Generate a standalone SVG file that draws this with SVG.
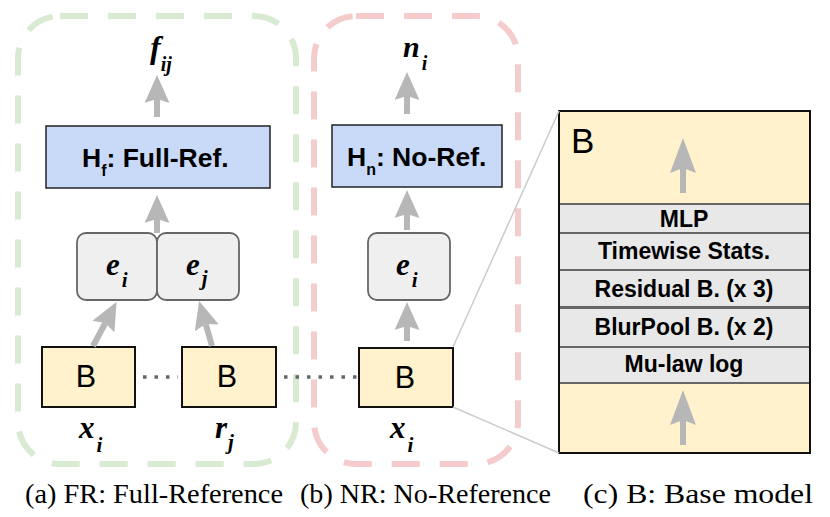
<svg xmlns="http://www.w3.org/2000/svg" width="830" height="517" viewBox="0 0 830 517">
<defs>
<marker id="ah" viewBox="0 0 28 25" refX="4" refY="12.5" markerWidth="28" markerHeight="25" orient="auto" markerUnits="userSpaceOnUse">
<path d="M0,0 L28,12.5 L0,25 L4,12.5 Z" fill="#b7b7b7"/>
</marker>
<marker id="ah2" viewBox="0 0 35 26" refX="5" refY="13" markerWidth="35" markerHeight="26" orient="auto" markerUnits="userSpaceOnUse">
<path d="M0,0 L35,13 L0,26 L5,13 Z" fill="#b7b7b7"/>
</marker>
<style>
.grp{fill:none;stroke-width:6;stroke-dasharray:28 20}
.head{fill:#c9daf8;stroke:#222;stroke-width:1.5}
.emb{fill:#efefef;stroke:#666;stroke-width:1.8}
.base{fill:#fff2cc;stroke:#111;stroke-width:2}
.layer{fill:#e8e8e8;stroke:#666;stroke-width:2}
.arr{stroke:#b7b7b7;stroke-width:6;fill:none;marker-end:url(#ah)}
.arr2{stroke:#b7b7b7;stroke-width:6;fill:none;marker-end:url(#ah2)}
.dot{stroke:#666;stroke-width:3.5;stroke-dasharray:3.5 8}
.zl{stroke:#ccc;stroke-width:1.5}
.sans{font-family:"Liberation Sans",Arial,sans-serif}
.lay{font-family:"Liberation Sans",Arial,sans-serif;font-size:23px;font-weight:bold;text-anchor:middle}
.bi{font-family:"Liberation Serif","Times New Roman",serif;font-weight:bold;font-style:italic}
.cap{font-family:"Liberation Serif","Times New Roman",serif;font-size:28px}
</style>
</defs>
<g id="group-fr"><rect class="grp" x="18" y="16" width="278" height="448" rx="42" stroke="#d9ead3"/></g>
<g id="group-nr"><rect class="grp" x="314" y="16" width="204" height="448" rx="42" stroke="#f4cccc"/></g>
<g id="label-fij"><text class="bi" x="150" y="58" font-size="32">f<tspan font-size="20" dy="13" dx="0">ij</tspan></text></g>
<g id="label-ni"><text class="bi" x="403" y="57" font-size="30">n<tspan font-size="20" dy="13" dx="2">i</tspan></text></g>
<g id="node-hf"><rect class="head" x="46" y="126" width="224" height="62"/>
<text class="sans" x="82" y="167" font-size="26.5" font-weight="bold">H<tspan font-size="16" dy="9">f</tspan><tspan dy="-9">: Full-Ref.</tspan></text></g>
<g id="node-hn"><rect class="head" x="332" y="125" width="170" height="62"/>
<text class="sans" x="347" y="166" font-size="26.5" font-weight="bold">H<tspan font-size="16" dy="9">n</tspan><tspan dy="-9">: No-Ref.</tspan></text></g>
<g id="node-ei"><rect class="emb" x="77" y="233" width="80" height="67" rx="9"/>
<text class="bi" x="106" y="275" font-size="31">e<tspan font-size="21" dy="12" dx="2">i</tspan></text></g>
<g id="node-ej"><rect class="emb" x="157" y="233" width="82" height="67" rx="9"/>
<text class="bi" x="186" y="275" font-size="31">e<tspan font-size="21" dy="10" dx="2">j</tspan></text></g>
<g id="node-ei-nr"><rect class="emb" x="368" y="233" width="82" height="67" rx="9"/>
<text class="bi" x="396" y="275" font-size="31">e<tspan font-size="21" dy="12" dx="2">i</tspan></text></g>
<g id="node-b1"><rect class="base" x="42" y="347" width="93" height="60"/>
<text class="sans" x="86" y="387" font-size="30.5" text-anchor="middle">B</text></g>
<g id="node-b2"><rect class="base" x="182" y="347" width="94" height="60"/>
<text class="sans" x="227" y="387" font-size="30.5" text-anchor="middle">B</text></g>
<g id="node-b3"><rect class="base" x="359" y="348" width="94" height="59"/>
<text class="sans" x="405" y="388" font-size="30.5" text-anchor="middle">B</text></g>
<g id="label-xi"><text class="bi" x="79" y="438" font-size="31">x<tspan font-size="21" dy="14" dx="2">i</tspan></text></g>
<g id="label-rj"><text class="bi" x="215" y="438" font-size="31">r<tspan font-size="21" dy="11" dx="1">j</tspan></text></g>
<g id="label-xi-nr"><text class="bi" x="390" y="438" font-size="31">x<tspan font-size="21" dy="14" dx="2">i</tspan></text></g>
<g id="panel-b">
<rect class="base" x="559" y="111" width="251" height="342"/>
<text class="sans" x="571" y="153" font-size="35">B</text>
<rect class="layer" x="559" y="204" width="251" height="29"/>
<text class="lay" x="684" y="227">MLP</text>
<rect class="layer" x="559" y="233" width="251" height="37"/>
<text class="lay" x="684" y="259">Timewise Stats.</text>
<rect class="layer" x="559" y="270" width="251" height="37"/>
<text class="lay" x="684" y="297">Residual B. (x 3)</text>
<rect class="layer" x="559" y="308" width="251" height="39"/>
<text class="lay" x="684" y="335">BlurPool B. (x 2)</text>
<rect class="layer" x="559" y="347" width="251" height="36"/>
<text class="lay" x="684" y="372">Mu-law log</text>
<rect x="559" y="111" width="251" height="342" fill="none" stroke="#111" stroke-width="2"/>
</g>
<g id="connectors">
<line class="arr" x1="157" y1="117" x2="157" y2="99"/>
<line class="arr" x1="157" y1="233" x2="157" y2="219"/>
<line class="arr" x1="407" y1="114" x2="407" y2="96"/>
<line class="arr" x1="407" y1="230" x2="407" y2="214"/>
<line class="arr" x1="93" y1="346" x2="105.3" y2="323"/>
<line class="arr" x1="212" y1="346" x2="205.7" y2="324"/>
<line class="arr" x1="407" y1="341" x2="407" y2="326"/>
<line class="arr2" x1="683" y1="193" x2="683" y2="168"/>
<line class="arr2" x1="683" y1="445" x2="683" y2="420"/>
<line class="dot" x1="143" y1="377" x2="178" y2="377"/>
<line class="dot" x1="284" y1="377" x2="357" y2="377"/>
<line class="zl" x1="453" y1="347" x2="559" y2="111"/>
<line class="zl" x1="453" y1="407" x2="559" y2="453"/>
</g>
<g id="captions">
<text class="cap" x="25" y="503" textLength="258" lengthAdjust="spacingAndGlyphs">(a) FR: Full-Reference</text>
<text class="cap" x="300" y="503" textLength="251" lengthAdjust="spacingAndGlyphs">(b) NR: No-Reference</text>
<text class="cap" x="583" y="503" textLength="230" lengthAdjust="spacingAndGlyphs">(c) B: Base model</text>
</g>
</svg>
